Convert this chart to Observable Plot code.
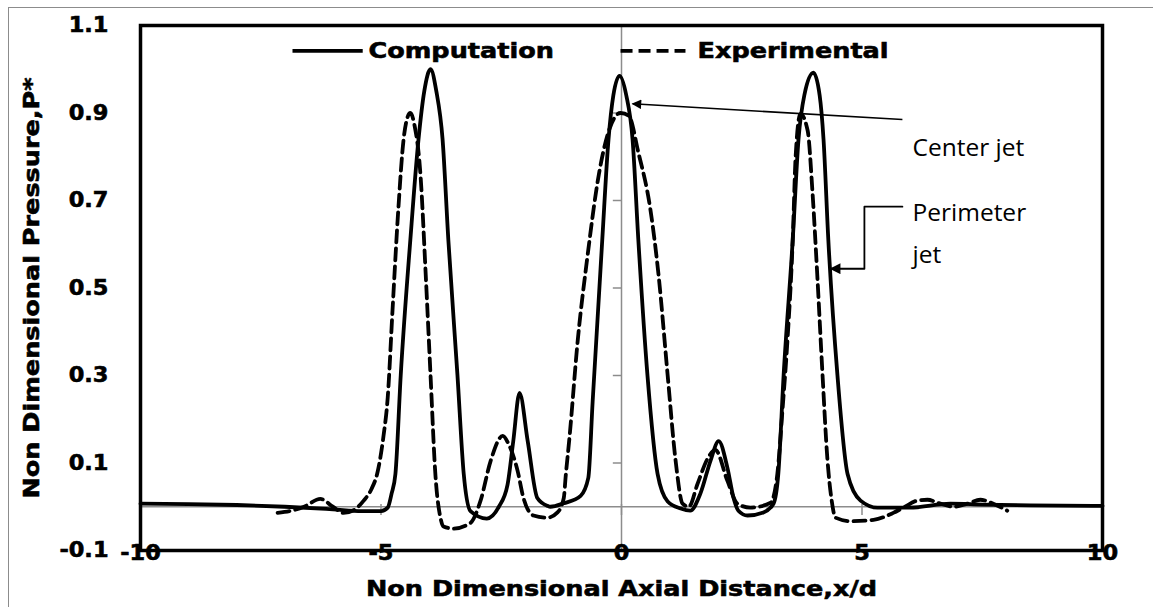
<!DOCTYPE html>
<html><head><meta charset="utf-8">
<script src="https://cdn.jsdelivr.net/npm/d3@7"></script>
<script src="https://cdn.jsdelivr.net/npm/@observablehq/plot@0.6"></script>
<style>
body{margin:0;background:#fff;}
#wrap{position:relative;width:1153px;height:607px;overflow:hidden;}
#border{position:absolute;left:8px;top:7px;right:-5px;bottom:-5px;border-left:1.5px solid #8c8c8c;border-top:1.5px solid #8c8c8c;pointer-events:none;}
</style></head><body><div id="wrap"></div>
<script>
// ---- data ----
const xTicks = [-10, -5, 0, 5, 10];
const yTicks = [-0.1, 0.1, 0.3, 0.5, 0.7, 0.9, 1.1];
const xTitle = "Non Dimensional Axial Distance,x/d";
const yTitle = "Non Dimensional Pressure,P*";
const seriesNames = ["Computation", "Experimental"];

const compX = [-10,-9,-8,-7,-6,-5.4,-5.0,-4.86,-4.78,-4.70,-4.59,-4.39,-4.22,-4.10,-3.97,-3.85,-3.72,-3.60,-3.41,-3.28,-3.14,-2.80,-2.55,-2.37,-2.25,-2.12,-1.95,-1.75,-1.54,-1.48,-1.2,-0.85,-0.69,-0.60,-0.40,-0.27,-0.17,-0.04,0.10,0.23,0.35,0.54,0.75,0.96,1.23,1.43,1.64,1.85,2.02,2.20,2.33,2.43,2.62,2.95,3.16,3.26,3.37,3.56,3.68,3.80,3.99,4.12,4.20,4.30,4.49,4.70,4.97,5.32,6.0,6.84,7.5,8.5,10];
const compY = [0.007,0.006,0.004,0.0,-0.006,-0.01,-0.01,-0.002,0.03,0.075,0.30,0.61,0.84,0.95,1.0,0.95,0.84,0.61,0.30,0.075,-0.01,-0.027,0.0,0.05,0.15,0.26,0.15,0.02,0.002,0.0,0.008,0.025,0.066,0.24,0.61,0.84,0.94,0.985,0.94,0.84,0.61,0.30,0.075,0.012,-0.004,-0.009,0.03,0.105,0.15,0.09,0.02,-0.009,-0.02,-0.013,0.007,0.075,0.30,0.61,0.84,0.94,0.992,0.94,0.84,0.61,0.30,0.075,0.014,-0.002,-0.002,0.007,0.005,0.003,0.002];

const expX = [-7.15,-6.9,-6.6,-6.26,-6.0,-5.78,-5.57,-5.36,-5.2,-5.07,-4.95,-4.86,-4.76,-4.64,-4.53,-4.45,-4.39,-4.30,-4.18,-4.07,-3.97,-3.87,-3.76,-3.70,-3.49,-3.14,-2.93,-2.72,-2.47,-2.35,-2.16,-2.04,-1.83,-1.54,-1.33,-1.20,-1.16,-1.08,-0.91,-0.71,-0.47,-0.29,-0.02,0.15,0.35,0.60,0.77,0.96,1.12,1.27,1.40,1.58,1.79,1.95,2.20,2.41,2.68,3.10,3.24,3.35,3.45,3.56,3.62,3.72,3.87,3.97,4.07,4.18,4.28,4.37,4.45,4.76,5.24,5.65,5.86,6.15,6.36,6.63,6.90,7.19,7.46,7.73,8.02];
const expY = [-0.014,-0.01,0.0,0.018,0.0,-0.014,-0.008,0.014,0.04,0.08,0.16,0.25,0.45,0.68,0.84,0.89,0.90,0.87,0.76,0.53,0.30,0.075,-0.027,-0.045,-0.05,-0.037,0.014,0.105,0.162,0.144,0.082,0.021,-0.02,-0.025,-0.013,0.02,0.07,0.16,0.38,0.57,0.76,0.85,0.90,0.894,0.81,0.68,0.53,0.30,0.11,0.007,0.0,0.052,0.11,0.13,0.06,0.007,-0.002,0.009,0.075,0.226,0.38,0.61,0.80,0.898,0.86,0.72,0.53,0.30,0.11,0.014,-0.025,-0.033,-0.03,-0.014,-0.002,0.014,0.016,0.007,0.0,0.007,0.016,0.007,-0.009];

// annotation anchors (data coordinates)
const annText = ["Center jet", "Perimeter\njet"];
const annTextX = [6.05, 6.05];
const annTextY = [0.869, 0.722];
const centerArrowFrom = [5.84, 0.885];
const centerArrowTo = [0.23, 0.921];
const perimPathX = [5.84, 5.05, 5.05, 4.35];
const perimPathY = [0.686, 0.686, 0.544, 0.544];

// legend anchors (data coordinates)
const legendLineX1 = [-6.84, -0.02];
const legendLineX2 = [-5.38, 1.33];
const legendTextX = [-5.26, 1.58];
const legendY = 1.042;

// ---- build ----
const computation = compX.map((x, i) => ({x, y: compY[i]}));
const experimental = expX.map((x, i) => ({x, y: expY[i]}));
const perimPath = perimPathX.map((x, i) => ({x, y: perimPathY[i]}));
const legend = seriesNames.map((name, i) => ({name, x1: legendLineX1[i], x2: legendLineX2[i], tx: legendTextX[i], y: legendY}));
const ann = annText.map((t, i) => ({t, x: annTextX[i], y: annTextY[i]}));

const heavy = "'DejaVu Sans', 'Liberation Sans', Arial, sans-serif";
const DASH = "12,6";
const TICK_FS = 21, TITLE_FS = 22;

const chart = Plot.plot({
  width: 1153, height: 607,
  marginLeft: 140, marginRight: 51, marginTop: 25, marginBottom: 57,
  x: {domain: [-10, 10]},
  y: {domain: [-0.1, 1.1]},
  style: {fontFamily: heavy, fontSize: "21px", fontWeight: "bold", color: "black", background: "white", overflow: "visible"},
  marks: [
    Plot.ruleX([0], {stroke: "#8c8c8c", strokeWidth: 1.5}),
    Plot.ruleY([0], {stroke: "#8c8c8c", strokeWidth: 1.5}),
    Plot.ruleY(yTicks, {y: d => d, x1: -0.17, x2: 0, stroke: "#8c8c8c", strokeWidth: 1.5}),
    Plot.ruleX(xTicks, {x: d => d, y1: -0.02, y2: 0.005, stroke: "#8c8c8c", strokeWidth: 1.5}),
    Plot.line(experimental, {x: "x", y: "y", curve: "monotone-x", stroke: "black", strokeWidth: 3.8, strokeDasharray: DASH}),
    Plot.line(computation, {x: "x", y: "y", curve: "monotone-x", stroke: "black", strokeWidth: 3.8}),
    Plot.frame({stroke: "black", strokeWidth: 3.5}),
    Plot.axisY({ticks: yTicks, tickSize: 0, tickPadding: 32, tickFormat: d => String(d), label: null, fontSize: TICK_FS, fontWeight: "bold"}),
    Plot.axisX({ticks: xTicks, tickSize: 0, tickPadding: -5, tickFormat: d => String(d), label: null, fontSize: TICK_FS, fontWeight: "bold"}),
    Plot.text([yTitle], {frameAnchor: "left", textAnchor: "middle", lineAnchor: "middle", rotate: -90, dx: -109, fontSize: TITLE_FS, fontWeight: "bold"}),
    Plot.text([xTitle], {frameAnchor: "bottom", lineAnchor: "middle", dy: 38, fontSize: TITLE_FS, fontWeight: "bold"}),
    Plot.link(legend.slice(0, 1), {x1: "x1", x2: "x2", y1: "y", y2: "y", stroke: "black", strokeWidth: 3.8}),
    Plot.link(legend.slice(1), {x1: "x1", x2: "x2", y1: "y", y2: "y", stroke: "black", strokeWidth: 3.8, strokeDasharray: DASH}),
    Plot.text(legend, {x: "tx", y: "y", text: "name", textAnchor: "start", fontSize: TITLE_FS, fontWeight: "bold"}),
    Plot.link([0], {x1: centerArrowFrom[0], y1: centerArrowFrom[1], x2: centerArrowTo[0], y2: centerArrowTo[1], stroke: "#010101", strokeWidth: 1.6}),
    Plot.line(perimPath, {x: "x", y: "y", stroke: "#010101", strokeWidth: 1.8}),
    Plot.text(ann, {x: "x", y: "y", text: "t", textAnchor: "start", lineAnchor: "top", lineHeight: 1.72, fontFamily: "'Open Sans', 'Noto Sans', sans-serif", fontWeight: 400, fontSize: 24.5})
  ]
});

const svg = d3.select(chart);
const defs = svg.append("defs");
defs.append("marker").attr("id", "tri").attr("viewBox", "0 0 10 10")
  .attr("refX", 9).attr("refY", 5).attr("markerWidth", 7).attr("markerHeight", 6)
  .attr("markerUnits", "strokeWidth").attr("orient", "auto")
  .append("path").attr("d", "M0,0L10,5L0,10Z").attr("fill", "black");
svg.selectAll('g[stroke="#010101"] path').attr("marker-end", "url(#tri)");

const wrap = document.getElementById("wrap");
wrap.appendChild(chart);
const b = document.createElement("div");
b.id = "border";
wrap.appendChild(b);

// widen & thicken the heavy (Arial-Black-like) texts
chart.querySelectorAll("text").forEach(t => {
  const cs = getComputedStyle(t);
  if (!/DejaVu/.test(cs.fontFamily)) return;
  const fs = parseFloat(cs.fontSize);
  const scale = fs >= TITLE_FS ? 1.16 : 1.07;
  const len = t.getComputedTextLength();
  if (len > 0) {
    t.setAttribute("textLength", (len * scale).toFixed(1));
    t.setAttribute("lengthAdjust", "spacingAndGlyphs");
  }
  t.style.stroke = "black";
  t.style.strokeWidth = "0.6px";
});
</script>
</body></html>
